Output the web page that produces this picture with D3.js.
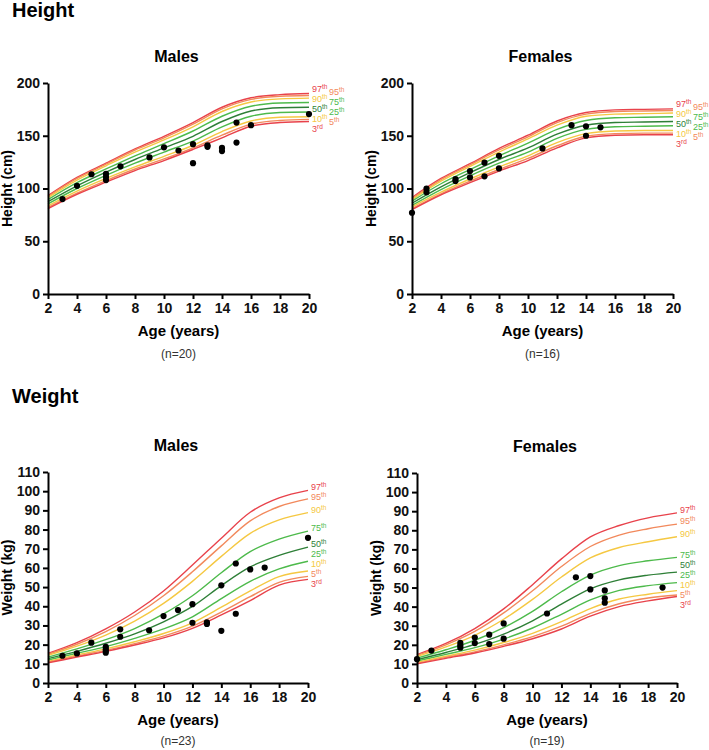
<!DOCTYPE html>
<html>
<head>
<meta charset="utf-8">
<script src="https://cdn.jsdelivr.net/npm/d3@7"></script>
<style>
  body { margin: 0; background: #fff; }
  svg { display: block; font-family: "Liberation Sans", Arial, sans-serif; }
</style>
</head>
<body>
<div id="chart"></div>
<script>
const width = 709, height = 750;

// ages where the reference curves are read
const ages = [2, 4, 6, 8, 10, 12, 14, 16, 18, 20];
const pctNames = ["97", "95", "90", "75", "50", "25", "10", "5", "3"];
const pctSuffix = ["th", "th", "th", "th", "th", "th", "th", "th", "rd"];
const pctColors = ["#e8424b", "#f2895c", "#f5c842", "#4dba4b", "#2e7f37", "#4dba4b", "#f5c842", "#f2895c", "#e8424b"];

// percentile curves, rows in the order 97,95,90,75,50,25,10,5,3
const heightMaleCurves = [
  [93.2, 110.5, 124, 137.5, 149.5, 162.5, 177, 186, 189, 190],
  [92.4, 109.5, 123, 136.5, 148, 161, 175.5, 184.5, 187.5, 188.2],
  [91.3, 108, 121.5, 134.5, 146, 158.5, 173, 182, 185, 185.7],
  [89.5, 105.5, 118.5, 131, 142.5, 154.5, 168.5, 178, 181, 181.5],
  [87.5, 102.5, 115.5, 127.5, 138.5, 149.5, 163.5, 173.5, 176.5, 177],
  [85.5, 100, 112.5, 124, 134.5, 145, 158.5, 168.5, 172, 172.5],
  [83.5, 97.5, 109.5, 120.5, 130.5, 141, 154, 164, 167.5, 168],
  [82, 95.5, 107.5, 118.5, 128, 138.5, 150.5, 161, 164.5, 165.5],
  [81, 94.5, 106, 117, 126.5, 137, 148, 159, 162.5, 163.5]
];
const heightFemaleCurves = [
  [91.5, 109.5, 123.5, 138, 150.5, 164, 172, 174.5, 175, 175.5],
  [90.5, 108.5, 122.5, 136.5, 149, 162.5, 170.5, 173, 173.5, 174],
  [89.5, 107, 121, 134.5, 147, 160, 168.5, 170.5, 171, 171.5],
  [88, 104.5, 118, 131, 143, 156, 164.5, 167, 167.5, 168],
  [86, 101.5, 115, 127.5, 138.5, 151.5, 160, 162.5, 163, 163.5],
  [84, 99, 112, 124, 134.5, 147.5, 156, 158.5, 159, 159.5],
  [82.5, 96.5, 109, 120.5, 131, 143.5, 152, 154.5, 155, 155],
  [81, 95, 107, 118, 128.5, 140.5, 149.5, 152, 152.5, 152.5],
  [80, 94, 105.5, 116.5, 126.5, 138.5, 148, 150.5, 151, 151]
];
const weightMaleCurves = [
  [15.4, 21.0, 28.2, 37.0, 48.0, 61.5, 75.5, 89, 96.5, 100.4],
  [15.0, 20.2, 26.8, 35.2, 45.5, 58, 71.5, 84.5, 92, 96],
  [14.4, 19.2, 25.0, 32.3, 41.5, 53, 66, 78, 85, 88.8],
  [13.5, 17.8, 22.6, 28.4, 36.0, 45.5, 57.5, 68.5, 75, 79.2],
  [12.7, 16.5, 20.7, 25.6, 31.9, 39.9, 50.8, 60.5, 66.5, 70.8],
  [12.0, 15.5, 19.0, 23.3, 28.2, 34.5, 44, 53, 59.5, 63.5],
  [11.3, 14.6, 17.8, 21.5, 25.8, 31.4, 39.5, 48, 55.5, 58.4],
  [10.8, 14.0, 17.0, 20.5, 24.4, 29.6, 37, 45, 52.5, 55.6],
  [10.5, 13.5, 16.5, 19.8, 23.5, 28.5, 35.5, 43, 51, 54]
];
const weightFemaleCurves = [
  [14.9, 20.7, 28.5, 38.8, 51.5, 65, 76.5, 82.5, 86.5, 89.1],
  [14.5, 20.0, 27.0, 36.7, 48.3, 61, 71.5, 77.5, 80.8, 83.2],
  [13.9, 18.9, 25.0, 33.4, 43.8, 55.5, 65.5, 71, 74, 76.6],
  [13.0, 17.4, 22.4, 29.0, 37.5, 47.8, 56.5, 61.5, 64, 65.8],
  [12.2, 16.0, 20.2, 25.6, 32.6, 41.3, 49.3, 54, 56.5, 58.1],
  [11.5, 15.0, 18.5, 23.0, 28.8, 36, 43.5, 48.5, 51, 52.6],
  [10.8, 14.0, 17.2, 21.2, 26.0, 32.1, 39, 44, 46.5, 48.4],
  [10.3, 13.4, 16.3, 20.0, 24.3, 29.8, 36.5, 41.5, 44.5, 46.1],
  [10.0, 12.9, 15.7, 19.2, 23.2, 28.3, 35, 40, 43, 45.3]
];

// patients [age, value]
const heightMalePts = [[3, 90], [4, 102.5], [5, 113.5], [6, 114], [6, 111], [6, 108], [7, 121], [9, 129.5], [10, 139], [11, 136],
  [12, 142], [12, 124], [13, 141], [13, 139.5], [14, 138.5], [14, 135.5], [15, 162.5], [15, 143.5], [16, 160], [20, 170.5]];
const heightFemalePts = [[2, 77], [3, 99.8], [3, 96.5], [5, 109], [5, 107], [6, 116.5], [6, 110.5], [7, 124.5], [7, 111.5],
  [8, 131], [8, 119], [11, 138], [13, 160], [14, 159], [14, 150], [15, 158]];
const weightMalePts = [[3, 14.2], [4, 15.4], [5, 21], [6, 18.9], [6, 17.7], [6, 16.7], [6, 15.8], [7, 28], [7, 24.1], [9, 27.5],
  [10, 34.9], [11, 38], [12, 41.1], [12, 31.4], [13, 31.6], [13, 30.8], [14, 50.9], [14, 27.2], [15, 62.3], [15, 36.1],
  [16, 59.2], [17, 60.2], [20, 75.7]];
const weightFemalePts = [[2, 12.5], [3, 17], [5, 21], [5, 19.6], [5, 18.5], [6, 23.8], [6, 20.9], [7, 25.3], [7, 20.4],
  [8, 31.2], [8, 23.2], [11, 36.4], [13, 55.4], [14, 56], [14, 49], [15, 48.5], [15, 44.4], [15, 42.1], [19, 50]];

const xTicks = [2, 4, 6, 8, 10, 12, 14, 16, 18, 20];
const heightTicks = [0, 50, 100, 150, 200];
const weightTicks = [0, 10, 20, 30, 40, 50, 60, 70, 80, 90, 100, 110];

const svg = d3.select("#chart").append("svg")
  .attr("width", width).attr("height", height)
  .attr("viewBox", `0 0 ${width} ${height}`);

// section headings
svg.append("text").attr("x", 12).attr("y", 17).style("font-size", "20px").style("font-weight", "bold").text("Height");
svg.append("text").attr("x", 12).attr("y", 403).style("font-size", "20px").style("font-weight", "bold").text("Weight");

function spread(ys, gap) {
  const p = ys.slice();
  for (let it = 0; it < 200; it++) {
    for (let i = 1; i < p.length; i++) {
      const d = p[i] - p[i - 1];
      if (d < gap) { const m = (gap - d) / 2; p[i - 1] -= m; p[i] += m; }
    }
  }
  return p;
}

function pctText(sel, i) {
  sel.append("tspan").style("font-size", "9px").text(pctNames[i]);
  sel.append("tspan").style("font-size", "6.5px").attr("dy", -3).text(pctSuffix[i]);
}

function drawChart(o) {
  const x = d3.scaleLinear().domain([2, 20]).range([o.x0, o.x1]);
  const y = d3.scaleLinear().domain([0, o.yMax]).range([o.y1, o.y0]);
  const g = svg.append("g");

  // title
  g.append("text").attr("x", (o.x0 + o.x1) / 2 - 2).attr("y", o.y0 - 21).attr("text-anchor", "middle")
    .style("font-size", "16px").style("font-weight", "bold").text(o.title);

  // percentile curves
  const line = d3.line().x((d, i) => x(ages[i])).y(d => y(d)).curve(d3.curveMonotoneX);
  g.selectAll(".curve").data(o.curves).enter().append("path")
    .attr("d", line)
    .attr("fill", "none")
    .attr("stroke", (d, i) => pctColors[i])
    .attr("stroke-width", 1.4);

  // curve labels
  if (o.twoCols) {
    const top = y(o.curves[0][ages.length - 1]) - 2;
    const leftCol = [0, 2, 4, 6, 8], rightCol = [1, 3, 5, 7];
    leftCol.forEach((pi, k) => {
      g.append("text").attr("x", x(20) + 3).attr("y", top + k * 10)
        .attr("fill", pctColors[pi]).call(pctText, pi);
    });
    rightCol.forEach((pi, k) => {
      g.append("text").attr("x", x(20) + 20).attr("y", top + 3 + k * 10)
        .attr("fill", pctColors[pi]).call(pctText, pi);
    });
  } else {
    const ends = o.curves.map(c => y(c[ages.length - 1]) - 3);
    const pos = spread(ends, 10);
    pos.forEach((py, pi) => {
      g.append("text").attr("x", x(20) + 3).attr("y", py + 3.2)
        .attr("fill", pctColors[pi]).call(pctText, pi);
    });
  }

  // axes
  const xAxis = g.append("g").attr("transform", `translate(0,${o.y1})`)
    .call(d3.axisBottom(x).tickValues(xTicks).tickSize(5).tickSizeOuter(0).tickPadding(4));
  const yAxis = g.append("g").attr("transform", `translate(${o.x0},0)`)
    .call(d3.axisLeft(y).tickValues(o.yTicks).tickSize(5).tickSizeOuter(0).tickPadding(3));
  [xAxis, yAxis].forEach(a => {
    a.select(".domain").attr("stroke", "#000").attr("stroke-width", 2);
    a.selectAll(".tick line").attr("stroke", "#000").attr("stroke-width", 2);
    a.selectAll(".tick text").attr("fill", "#111")
      .style("font-size", "14px").style("font-weight", "bold")
      .style("font-family", "'Liberation Sans', Arial, sans-serif");
  });

  // points
  g.selectAll(".pt").data(o.points).enter().append("circle")
    .attr("cx", d => x(d[0])).attr("cy", d => y(d[1])).attr("r", 3.1).attr("fill", "#000");

  // axis titles
  g.append("text").attr("x", (o.x0 + o.x1) / 2).attr("y", o.y1 + 42).attr("text-anchor", "middle")
    .style("font-size", "15px").style("font-weight", "bold").text("Age (years)");
  g.append("text").attr("transform", `translate(${o.x0 - 36},${(o.y0 + o.y1) / 2}) rotate(-90)`)
    .attr("text-anchor", "middle").style("font-size", "14px").style("font-weight", "bold").text(o.yLabel);
  if (o.n) {
    g.append("text").attr("x", (o.x0 + o.x1) / 2).attr("y", o.y1 + o.nDy).attr("text-anchor", "middle")
      .attr("fill", "#333").style("font-size", "12px").text(o.n);
  }
}

drawChart({ title: "Males", x0: 48, x1: 309, y0: 83, y1: 294, yMax: 200, yTicks: heightTicks,
  curves: heightMaleCurves, points: heightMalePts, yLabel: "Height (cm)", n: "(n=20)", nDy: 64, twoCols: true });
drawChart({ title: "Females", x0: 412, x1: 673, y0: 83, y1: 294, yMax: 200, yTicks: heightTicks,
  curves: heightFemaleCurves, points: heightFemalePts, yLabel: "Height (cm)", n: "(n=16)", nDy: 64, twoCols: true });
drawChart({ title: "Males", x0: 48, x1: 308, y0: 472, y1: 683, yMax: 110, yTicks: weightTicks,
  curves: weightMaleCurves, points: weightMalePts, yLabel: "Weight (kg)", n: "(n=23)", nDy: 62, twoCols: false });
drawChart({ title: "Females", x0: 417, x1: 677, y0: 473, y1: 683, yMax: 110, yTicks: weightTicks,
  curves: weightFemaleCurves, points: weightFemalePts, yLabel: "Weight (kg)", n: "(n=19)", nDy: 62, twoCols: false });
</script>
</body>
</html>
